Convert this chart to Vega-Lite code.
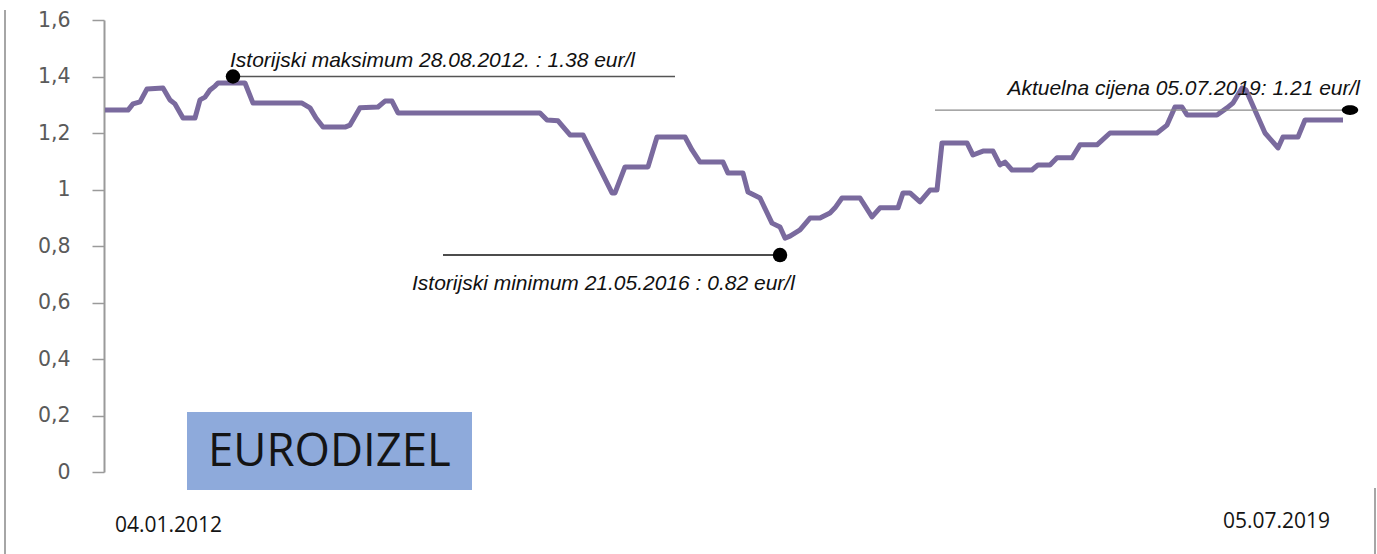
{
  "$schema": "https://vega.github.io/schema/vega-lite/v6.json",
  "width": 1273,
  "height": 452,
  "autosize": "none",
  "padding": {"left": 104, "top": 20, "right": 0, "bottom": 82},
  "background": "white",
  "config": {
    "view": {"stroke": null},
    "axisX": {"disable": true},
    "axisY": {
      "grid": false,
      "tickSize": 12,
      "tickColor": "#9a9a9a",
      "tickWidth": 1.5,
      "domainColor": "#9a9a9a",
      "domainWidth": 2,
      "labelFont": "DejaVu Sans",
      "labelFontSize": 20.5,
      "labelColor": "#5a5a5a",
      "labelPadding": 22,
      "labelExpr": "replace(datum.value + '', '.', ',')"
    }
  },
  "datasets": {
    "price": [
      {"t": 1, "v": 1.281}, {"t": 24, "v": 1.281}, {"t": 29, "v": 1.303}, {"t": 36, "v": 1.310},
      {"t": 43, "v": 1.356}, {"t": 59, "v": 1.359}, {"t": 66, "v": 1.317}, {"t": 71, "v": 1.303},
      {"t": 79, "v": 1.253}, {"t": 91, "v": 1.253}, {"t": 96, "v": 1.317}, {"t": 101, "v": 1.327},
      {"t": 106, "v": 1.352}, {"t": 111, "v": 1.366}, {"t": 114, "v": 1.377}, {"t": 141, "v": 1.377},
      {"t": 149, "v": 1.306}, {"t": 198, "v": 1.306}, {"t": 206, "v": 1.289}, {"t": 212, "v": 1.253},
      {"t": 219, "v": 1.221}, {"t": 241, "v": 1.221}, {"t": 246, "v": 1.228}, {"t": 256, "v": 1.289},
      {"t": 274, "v": 1.292}, {"t": 281, "v": 1.313}, {"t": 288, "v": 1.313}, {"t": 294, "v": 1.271},
      {"t": 436, "v": 1.271}, {"t": 443, "v": 1.246}, {"t": 454, "v": 1.243}, {"t": 466, "v": 1.193},
      {"t": 479, "v": 1.193}, {"t": 508, "v": 0.988}, {"t": 511, "v": 0.988}, {"t": 521, "v": 1.080},
      {"t": 544, "v": 1.080}, {"t": 553, "v": 1.186}, {"t": 581, "v": 1.186}, {"t": 588, "v": 1.140},
      {"t": 596, "v": 1.097}, {"t": 619, "v": 1.097}, {"t": 624, "v": 1.058}, {"t": 639, "v": 1.058},
      {"t": 644, "v": 0.991}, {"t": 656, "v": 0.970}, {"t": 668, "v": 0.881}, {"t": 676, "v": 0.867},
      {"t": 681, "v": 0.828}, {"t": 686, "v": 0.835}, {"t": 696, "v": 0.857}, {"t": 706, "v": 0.899},
      {"t": 716, "v": 0.899}, {"t": 726, "v": 0.917}, {"t": 731, "v": 0.935}, {"t": 738, "v": 0.970},
      {"t": 756, "v": 0.970}, {"t": 768, "v": 0.903}, {"t": 776, "v": 0.935}, {"t": 794, "v": 0.935},
      {"t": 799, "v": 0.988}, {"t": 806, "v": 0.988}, {"t": 816, "v": 0.956}, {"t": 826, "v": 0.998},
      {"t": 833, "v": 0.998}, {"t": 838, "v": 1.165}, {"t": 863, "v": 1.165}, {"t": 869, "v": 1.122},
      {"t": 879, "v": 1.136}, {"t": 889, "v": 1.136}, {"t": 896, "v": 1.087}, {"t": 901, "v": 1.097},
      {"t": 908, "v": 1.069}, {"t": 928, "v": 1.069}, {"t": 934, "v": 1.087}, {"t": 946, "v": 1.087},
      {"t": 953, "v": 1.112}, {"t": 968, "v": 1.112}, {"t": 976, "v": 1.158}, {"t": 993, "v": 1.158},
      {"t": 1006, "v": 1.200}, {"t": 1053, "v": 1.200}, {"t": 1063, "v": 1.228}, {"t": 1071, "v": 1.292},
      {"t": 1078, "v": 1.292}, {"t": 1083, "v": 1.264}, {"t": 1113, "v": 1.264}, {"t": 1123, "v": 1.289},
      {"t": 1129, "v": 1.306}, {"t": 1138, "v": 1.359}, {"t": 1142, "v": 1.352}, {"t": 1161, "v": 1.200},
      {"t": 1169, "v": 1.168}, {"t": 1174, "v": 1.147}, {"t": 1179, "v": 1.186}, {"t": 1194, "v": 1.186},
      {"t": 1201, "v": 1.246}, {"t": 1239, "v": 1.246}
    ],
    "frame": [
      {"t": -99, "v": 1.635, "v2": -0.29},
      {"t": 1271, "v": -0.057, "v2": -0.29}
    ],
    "box": [{"t": 83, "t2": 368, "v": 0.212, "v2": -0.064}],
    "boxText": [{"t": 104, "v": 0.021, "label": "EURODIZEL"}],
    "dates": [
      {"t": 11, "v": -0.212, "label": "04.01.2012"},
      {"t": 1119, "v": -0.198, "label": "05.07.2019"}
    ],
    "annLines": [
      {"t": 129, "t2": 571, "v": 1.40, "kind": "max"},
      {"t": 339, "t2": 676, "v": 0.768, "kind": "min"},
      {"t": 831, "t2": 1246, "v": 1.281, "kind": "cur"}
    ],
    "dots": [
      {"t": 129, "v": 1.40},
      {"t": 676, "v": 0.768}
    ],
    "curDot": [{"t": 1246, "v": 1.281}],
    "annTextLeft": [
      {"t": 126, "v": 1.434, "label": "Istorijski maksimum 28.08.2012. : 1.38 eur/l"},
      {"t": 308, "v": 0.644, "label": "Istorijski minimum 21.05.2016 : 0.82 eur/l"}
    ],
    "annTextRight": [
      {"t": 1256, "v": 1.335, "label": "Aktuelna cijena  05.07.2019: 1.21 eur/l"}
    ]
  },
  "layer": [
    {
      "data": {"name": "price"},
      "mark": {"type": "line", "color": "#7a6a9e", "strokeWidth": 5, "strokeJoin": "round"},
      "encoding": {
        "x": {"field": "t", "type": "quantitative", "title": null, "scale": {"domain": [0, 1273], "nice": false, "zero": false}},
        "y": {
          "field": "v", "type": "quantitative", "title": null,
          "scale": {"domain": [0, 1.6], "nice": false},
          "axis": {"values": [0, 0.2, 0.4, 0.6, 0.8, 1, 1.2, 1.4, 1.6]}
        }
      }
    },
    {
      "data": {"name": "frame"},
      "mark": {"type": "rule", "color": "#a6a6a6", "strokeWidth": 2},
      "encoding": {
        "x": {"field": "t", "type": "quantitative", "title": null, "scale": {"domain": [0, 1273], "nice": false, "zero": false}},
        "y": {"field": "v", "type": "quantitative", "title": null, "scale": {"domain": [0, 1.6], "nice": false}},
        "y2": {"field": "v2"}
      }
    },
    {
      "data": {"name": "box"},
      "mark": {"type": "rect", "color": "#8eaadb"},
      "encoding": {
        "x": {"field": "t", "type": "quantitative", "title": null, "scale": {"domain": [0, 1273], "nice": false, "zero": false}},
        "x2": {"field": "t2"},
        "y": {"field": "v", "type": "quantitative", "title": null, "scale": {"domain": [0, 1.6], "nice": false}},
        "y2": {"field": "v2"}
      }
    },
    {
      "data": {"name": "boxText"},
      "mark": {"type": "text", "font": "Open Sans", "fontSize": 45.5, "align": "left", "baseline": "alphabetic", "color": "#141414"},
      "encoding": {
        "x": {"field": "t", "type": "quantitative", "title": null, "scale": {"domain": [0, 1273], "nice": false, "zero": false}},
        "y": {"field": "v", "type": "quantitative", "title": null, "scale": {"domain": [0, 1.6], "nice": false}},
        "text": {"field": "label"}
      }
    },
    {
      "data": {"name": "dates"},
      "mark": {"type": "text", "font": "Open Sans", "fontSize": 21, "align": "left", "baseline": "alphabetic", "color": "#141414"},
      "encoding": {
        "x": {"field": "t", "type": "quantitative", "title": null, "scale": {"domain": [0, 1273], "nice": false, "zero": false}},
        "y": {"field": "v", "type": "quantitative", "title": null, "scale": {"domain": [0, 1.6], "nice": false}},
        "text": {"field": "label"}
      }
    },
    {
      "data": {"name": "annLines"},
      "mark": {"type": "rule", "strokeWidth": 1.4},
      "encoding": {
        "x": {"field": "t", "type": "quantitative", "title": null, "scale": {"domain": [0, 1273], "nice": false, "zero": false}},
        "x2": {"field": "t2"},
        "y": {"field": "v", "type": "quantitative", "title": null, "scale": {"domain": [0, 1.6], "nice": false}},
        "color": {"field": "kind", "type": "nominal", "legend": null, "scale": {"domain": ["max", "min", "cur"], "range": ["#555555", "#111111", "#8a8a8a"]}}
      }
    },
    {
      "data": {"name": "dots"},
      "mark": {"type": "point", "shape": "circle", "filled": true, "color": "#000000", "size": 210, "opacity": 1},
      "encoding": {
        "x": {"field": "t", "type": "quantitative", "title": null, "scale": {"domain": [0, 1273], "nice": false, "zero": false}},
        "y": {"field": "v", "type": "quantitative", "title": null, "scale": {"domain": [0, 1.6], "nice": false}}
      }
    },
    {
      "data": {"name": "curDot"},
      "mark": {"type": "point", "shape": "M -1 0 A 1 0.58 0 1 1 1 0 A 1 0.58 0 1 1 -1 0 Z", "filled": true, "color": "#000000", "size": 270, "opacity": 1},
      "encoding": {
        "x": {"field": "t", "type": "quantitative", "title": null, "scale": {"domain": [0, 1273], "nice": false, "zero": false}},
        "y": {"field": "v", "type": "quantitative", "title": null, "scale": {"domain": [0, 1.6], "nice": false}}
      }
    },
    {
      "data": {"name": "annTextLeft"},
      "mark": {"type": "text", "font": "Liberation Sans", "fontStyle": "italic", "fontSize": 21, "align": "left", "baseline": "alphabetic", "color": "#111111"},
      "encoding": {
        "x": {"field": "t", "type": "quantitative", "title": null, "scale": {"domain": [0, 1273], "nice": false, "zero": false}},
        "y": {"field": "v", "type": "quantitative", "title": null, "scale": {"domain": [0, 1.6], "nice": false}},
        "text": {"field": "label"}
      }
    },
    {
      "data": {"name": "annTextRight"},
      "mark": {"type": "text", "font": "Liberation Sans", "fontStyle": "italic", "fontSize": 21, "align": "right", "baseline": "alphabetic", "color": "#111111"},
      "encoding": {
        "x": {"field": "t", "type": "quantitative", "title": null, "scale": {"domain": [0, 1273], "nice": false, "zero": false}},
        "y": {"field": "v", "type": "quantitative", "title": null, "scale": {"domain": [0, 1.6], "nice": false}},
        "text": {"field": "label"}
      }
    }
  ]
}
